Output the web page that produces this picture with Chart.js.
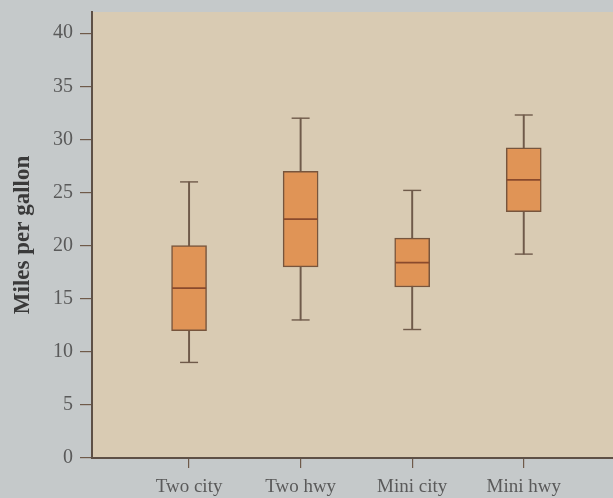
<!DOCTYPE html>
<html>
<head>
<meta charset="utf-8">
<script src="https://cdn.jsdelivr.net/npm/chart.js@4.4.1/dist/chart.umd.min.js"></script>
<style>
  body { margin: 0; background: #c5c9ca; }
  canvas { display: block; }
</style>
</head>
<body>
<canvas id="chart" width="613" height="498"></canvas>
<script>
// Data
const categories = ["Two city", "Two hwy", "Mini city", "Mini hwy"];
const whiskerLow = [9, 13, 12.1, 19.2];
const quartile1 = [12, 18, 16.1, 23.2];
const medians = [16, 22.5, 18.4, 26.2];
const quartile3 = [20, 27, 20.7, 29.2];
const whiskerHigh = [26, 32, 25.2, 32.3];
const yTicks = [0, 5, 10, 15, 20, 25, 30, 35, 40];

const lineColor = "#6f5a4a";
const textColor = "#5a5a5a";

// paint the plot area beige
const plotBackground = {
  id: "plotBackground",
  beforeDraw(chart) {
    const { ctx, chartArea } = chart;
    ctx.save();
    ctx.fillStyle = "#d9cbb3";
    ctx.fillRect(chartArea.left, chartArea.top, chartArea.right - chartArea.left, chartArea.bottom - chartArea.top);
    ctx.restore();
  },
};

const pos = categories.map((c, i) => i + 1);

const data = {
  datasets: [
    {
      // whisker line from low to high
      type: "bar",
      data: pos.map((x, i) => ({ x: x, y: [whiskerLow[i], whiskerHigh[i]] })),
      backgroundColor: lineColor,
      barThickness: 1.3,
      grouped: false,
      order: 3,
    },
    {
      // box from Q1 to Q3
      type: "bar",
      data: pos.map((x, i) => ({ x: x, y: [quartile1[i], quartile3[i]] })),
      backgroundColor: "#e09456",
      borderColor: "#77553d",
      borderWidth: 1.5,
      borderSkipped: false,
      barThickness: 35,
      grouped: false,
      order: 2,
    },
    {
      // medians
      type: "scatter",
      data: pos.map((x, i) => ({ x: x, y: medians[i] })),
      pointStyle: "line",
      pointRadius: 17,
      borderColor: "#8a4a2c",
      borderWidth: 1.8,
      order: 1,
    },
    {
      // whisker caps
      type: "scatter",
      data: pos.flatMap((x, i) => [{ x: x, y: whiskerLow[i] }, { x: x, y: whiskerHigh[i] }]),
      pointStyle: "line",
      pointRadius: 9,
      borderColor: lineColor,
      borderWidth: 1.4,
      order: 1,
    },
  ],
};

const options = {
  responsive: false,
  animation: false,
  layout: { autoPadding: false, padding: { top: 12, right: 0, left: 0, bottom: 0 } },
  plugins: {
    legend: { display: false },
    tooltip: { enabled: false },
  },
  scales: {
    x: {
      type: "linear",
      min: 0.13,
      max: 4.8,
      offset: false,
      afterBuildTicks(scale) {
        scale.ticks = pos.map((v) => ({ value: v }));
      },
      afterFit(scale) {
        scale.height = 40;
        scale.paddingLeft = 0;
        scale.paddingRight = 0;
      },
      ticks: {
        callback: (v) => categories[v - 1],
        color: textColor,
        font: { family: "Liberation Serif", size: 19 },
        padding: 8,
        maxRotation: 0,
        autoSkip: false,
      },
      grid: {
        offset: false,
        drawOnChartArea: false,
        drawTicks: true,
        tickLength: 10,
        color: lineColor,
        lineWidth: 1.2,
      },
      border: { color: "#5e5046", width: 2 },
    },
    y: {
      min: 0,
      max: 42,
      afterBuildTicks(scale) {
        scale.ticks = yTicks.map((v) => ({ value: v }));
      },
      afterFit(scale) {
        scale.width = 92;
        scale.paddingTop = 0;
        scale.paddingBottom = 0;
      },
      ticks: {
        color: textColor,
        font: { family: "Liberation Serif", size: 20 },
        padding: 7,
      },
      grid: {
        drawOnChartArea: false,
        drawTicks: true,
        tickLength: 12,
        color: lineColor,
        lineWidth: 1.2,
      },
      border: { color: "#5e5046", width: 2 },
      title: {
        display: true,
        text: "Miles per gallon",
        color: "#3a3a3a",
        font: { family: "Liberation Serif", size: 23, weight: "bold" },
        padding: { top: 9, bottom: 0 },
      },
    },
  },
};

new Chart(document.getElementById("chart"), {
  type: "bar",
  data: data,
  options: options,
  plugins: [plotBackground],
});
</script>
</body>
</html>
